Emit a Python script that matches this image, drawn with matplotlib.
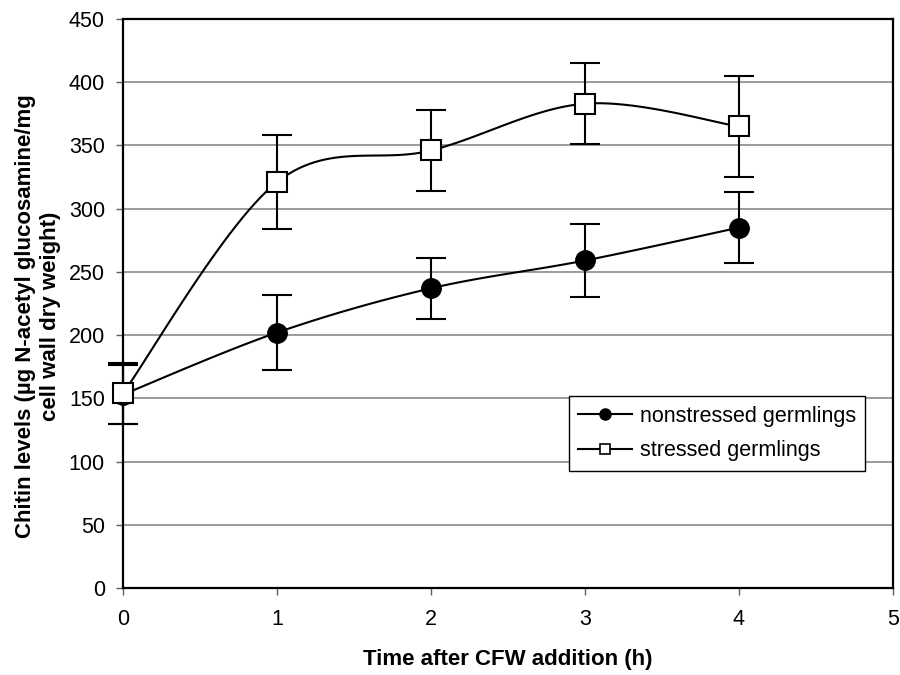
import numpy as np
import matplotlib
matplotlib.use("Agg")
import matplotlib.pyplot as plt

plt.rcParams['font.family'] = ['Liberation Sans', 'DejaVu Sans']

hours = [0, 1, 2, 3, 4]
nonstressed = [153, 202, 237, 259, 285]
nonstressed_err = [23, 30, 24, 29, 28]
stressed = [154, 321, 346, 383, 365]
stressed_err = [24, 37, 32, 32, 40]


def excel_smooth(x, y, n=30):
    # bezier smoothing in the style of Excel's "smoothed line"
    p = np.column_stack([x, y]).astype(float)
    p = np.vstack([p[0], p, p[-1]])
    out = []
    for i in range(1, len(p) - 2):
        p0, p3 = p[i], p[i + 1]
        c1 = p0 + (p[i + 1] - p[i - 1]) / 6.0
        c2 = p3 - (p[i + 2] - p[i]) / 6.0
        t = np.linspace(0, 1, n)[:, None]
        seg = (1 - t) ** 3 * p0 + 3 * (1 - t) ** 2 * t * c1 + 3 * (1 - t) * t ** 2 * c2 + t ** 3 * p3
        out.append(seg if i == 1 else seg[1:])
    seg = np.vstack(out)
    return seg[:, 0], seg[:, 1]


fig = plt.figure(figsize=(9, 6.75), dpi=100)
ax = fig.add_axes([0.1367, 0.1289, 0.8555, 0.843])

for y in range(50, 451, 50):
    ax.axhline(y, color='#808080', lw=1.1, zorder=0)

sx, sy = excel_smooth(hours, nonstressed)
ax.plot(sx, sy, color='black', lw=1.5, zorder=2)
eb = ax.errorbar(hours, nonstressed, yerr=nonstressed_err, fmt='none', ecolor='black',
                 elinewidth=1.5, capsize=11, capthick=1.5, zorder=3)
for a in eb.lines[1] + eb.lines[2]:
    a.set_clip_on(False)
ax.plot(hours, nonstressed, 'o', color='black', ms=14, zorder=4, clip_on=False)

sx, sy = excel_smooth(hours, stressed)
ax.plot(sx, sy, color='black', lw=1.5, zorder=2)
eb = ax.errorbar(hours, stressed, yerr=stressed_err, fmt='none', ecolor='black',
                 elinewidth=1.5, capsize=11, capthick=1.5, zorder=3)
for a in eb.lines[1] + eb.lines[2]:
    a.set_clip_on(False)
ax.plot(hours, stressed, 's', mfc='white', mec='black', mew=1.5, ms=14, zorder=5, clip_on=False)

h1, = ax.plot([], [], '-o', color='black', lw=1.5, ms=8)
h2, = ax.plot([], [], '-s', color='black', mfc='white', mew=1.2, lw=1.5, ms=7)
leg = ax.legend([h1, h2], ['nonstressed germlings', 'stressed germlings'],
                loc='upper left', bbox_to_anchor=(0.5786, 0.337), fontsize=15.5,
                frameon=True, fancybox=False, edgecolor='black', framealpha=1,
                borderpad=0.45, borderaxespad=0, handlelength=2.5, handletextpad=0.35,
                labelspacing=0.62)
leg.get_frame().set_linewidth(1.0)

ax.set_xlim(0, 5)
ax.set_ylim(0, 450)
ax.set_xticks(range(0, 6))
ax.set_yticks(range(0, 451, 50))
ax.tick_params(direction='out', length=5, width=1, color='#606060', labelsize=15.5, pad=8)
ax.tick_params(axis='x', pad=10)
for s in ax.spines.values():
    s.set_linewidth(1.6)
    s.set_color('black')

ax.set_xlabel('Time after CFW addition (h)', fontsize=16, fontweight='bold', labelpad=14)
ax.set_ylabel('Chitin levels (\u00b5g N-acetyl glucosamine/mg\ncell wall dry weight)',
              fontsize=16, fontweight='bold', linespacing=1.2)
ax.yaxis.set_label_coords(-0.081, 0.478)

fig.savefig('out.png', dpi=100)
